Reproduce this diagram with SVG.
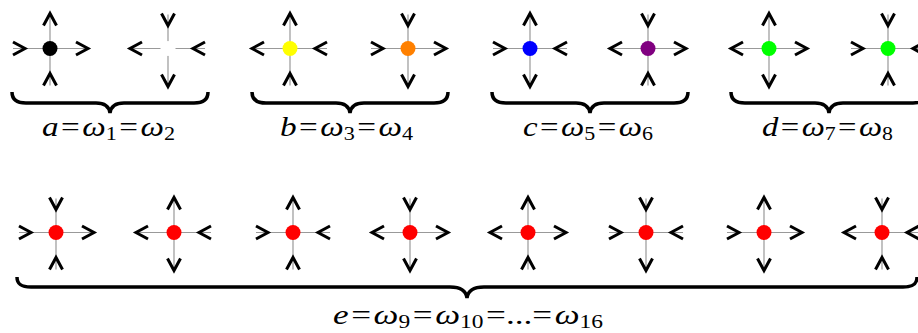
<svg xmlns="http://www.w3.org/2000/svg" xmlns:xlink="http://www.w3.org/1999/xlink" width="918" height="333" viewBox="0 0 918 333">
<style>
.arm{fill:none;stroke:#999;stroke-width:1.2}
.brace{fill:none;stroke:#000;stroke-width:3.5;stroke-linecap:butt}
.lbl{font-family:"Liberation Serif","Times New Roman",serif;font-size:27px;fill:#000}
.i{font-style:italic}
.s{font-size:18px}
</style>
<defs>
<g id="uo"><path d="M-6.5 -23L0 -35L6.5 -23" fill="none" stroke="#000" stroke-width="3"/></g>
<g id="ui"><path d="M-6.5 -35L0 -23L6.5 -35" fill="none" stroke="#000" stroke-width="3"/></g>
<g id="do"><path d="M-6.5 26L0 38L6.5 26" fill="none" stroke="#000" stroke-width="3"/></g>
<g id="di"><path d="M-6.5 37L0 25L6.5 37" fill="none" stroke="#000" stroke-width="3"/></g>
<g id="lo"><path d="M-26 -6.5L-38 0L-26 6.5" fill="none" stroke="#000" stroke-width="3"/></g>
<g id="li"><path d="M-37 -6.5L-25 0L-37 6.5" fill="none" stroke="#000" stroke-width="3"/></g>
<g id="ro"><path d="M26 -6.5L38 0L26 6.5" fill="none" stroke="#000" stroke-width="3"/></g>
<g id="ri"><path d="M37 -6.5L25 0L37 6.5" fill="none" stroke="#000" stroke-width="3"/></g>
<path id="cross" d="M-37 0H37M0 -34V37"/>
</defs>
<rect width="918" height="333" fill="#fff"/>

<!-- top row -->
<g id="v1" transform="translate(50,48.5)"><use href="#cross" class="arm"/><circle r="7.5" fill="#000"/><use href="#uo"/><use href="#li"/><use href="#ro"/><use href="#di"/></g>
<g id="v2" transform="translate(168,48.5)"><use href="#cross" class="arm"/><circle r="7.5" fill="#fff"/><use href="#ui"/><use href="#lo"/><use href="#ri"/><use href="#do"/></g>
<g id="v3" transform="translate(290,48.5)"><use href="#cross" class="arm"/><circle r="7.5" fill="#ffff00"/><use href="#uo"/><use href="#lo"/><use href="#ri"/><use href="#di"/></g>
<g id="v4" transform="translate(408,48.5)"><use href="#cross" class="arm"/><circle r="7.5" fill="#ff8000"/><use href="#ui"/><use href="#li"/><use href="#ro"/><use href="#do"/></g>
<g id="v5" transform="translate(530,48.5)"><use href="#cross" class="arm"/><circle r="7.5" fill="#0000ff"/><use href="#uo"/><use href="#li"/><use href="#ri"/><use href="#do"/></g>
<g id="v6" transform="translate(648,48.5)"><use href="#cross" class="arm"/><circle r="7.5" fill="#800080"/><use href="#ui"/><use href="#lo"/><use href="#ro"/><use href="#di"/></g>
<g id="v7" transform="translate(769,48.5)"><use href="#cross" class="arm"/><circle r="7.5" fill="#00ff00"/><use href="#uo"/><use href="#lo"/><use href="#ro"/><use href="#do"/></g>
<g id="v8" transform="translate(888,48.5)"><use href="#cross" class="arm"/><circle r="7.5" fill="#00ff00"/><use href="#ui"/><use href="#li"/><use href="#ri"/><use href="#di"/></g>

<!-- bottom row -->
<g id="v9" transform="translate(56,232.5)"><use href="#cross" class="arm"/><circle r="7.5" fill="#ff0000"/><use href="#ui"/><use href="#li"/><use href="#ro"/><use href="#di"/></g>
<g id="v10" transform="translate(174,232.5)"><use href="#cross" class="arm"/><circle r="7.5" fill="#ff0000"/><use href="#uo"/><use href="#lo"/><use href="#ri"/><use href="#do"/></g>
<g id="v11" transform="translate(293,232.5)"><use href="#cross" class="arm"/><circle r="7.5" fill="#ff0000"/><use href="#uo"/><use href="#li"/><use href="#ri"/><use href="#di"/></g>
<g id="v12" transform="translate(410,232.5)"><use href="#cross" class="arm"/><circle r="7.5" fill="#ff0000"/><use href="#ui"/><use href="#lo"/><use href="#ro"/><use href="#do"/></g>
<g id="v13" transform="translate(528,232.5)"><use href="#cross" class="arm"/><circle r="7.5" fill="#ff0000"/><use href="#uo"/><use href="#lo"/><use href="#ro"/><use href="#di"/></g>
<g id="v14" transform="translate(646,232.5)"><use href="#cross" class="arm"/><circle r="7.5" fill="#ff0000"/><use href="#ui"/><use href="#li"/><use href="#ri"/><use href="#do"/></g>
<g id="v15" transform="translate(764,232.5)"><use href="#cross" class="arm"/><circle r="7.5" fill="#ff0000"/><use href="#uo"/><use href="#li"/><use href="#ro"/><use href="#do"/></g>
<g id="v16" transform="translate(882,232.5)"><use href="#cross" class="arm"/><circle r="7.5" fill="#ff0000"/><use href="#ui"/><use href="#lo"/><use href="#ri"/><use href="#di"/></g>

<!-- braces -->
<g id="braces">
<path class="brace" d="M12 92C12 99 16 103 26 103H96C104 103 109 106 110 113C111 106 116 103 124 103H194C204 103 208 99 208 92"/>
<path class="brace" d="M252 92C252 99 256 103 266 103H336C344 103 349 106 350 113C351 106 356 103 364 103H434C444 103 448 99 448 92"/>
<path class="brace" d="M492 92C492 99 496 103 506 103H576C584 103 589 106 590 113C591 106 596 103 604 103H674C684 103 688 99 688 92"/>
<path class="brace" d="M731 92C731 99 735 103 745 103H815C823 103 828 106 829 113C830 106 835 103 843 103H913C923 103 927 99 927 92"/>
<path class="brace" d="M17 277C17 284 21 287 31 287H450C459 287 466 290 467 298C468 290 475 287 484 287H903C913 287 917 284 917 277"/>
</g>

<!-- labels -->
<g id="labels">
<text class="lbl" x="42" y="136" textLength="133" lengthAdjust="spacingAndGlyphs"><tspan class="i">a</tspan><tspan dx="2">=</tspan><tspan class="i" dx="2">ω</tspan><tspan class="s" dy="4">1</tspan><tspan dy="-4" dx="2">=</tspan><tspan class="i" dx="2">ω</tspan><tspan class="s" dy="4">2</tspan></text>
<text class="lbl" x="280" y="136" textLength="133" lengthAdjust="spacingAndGlyphs"><tspan class="i">b</tspan><tspan dx="2">=</tspan><tspan class="i" dx="2">ω</tspan><tspan class="s" dy="4">3</tspan><tspan dy="-4" dx="2">=</tspan><tspan class="i" dx="2">ω</tspan><tspan class="s" dy="4">4</tspan></text>
<text class="lbl" x="523" y="136" textLength="130" lengthAdjust="spacingAndGlyphs"><tspan class="i">c</tspan><tspan dx="2">=</tspan><tspan class="i" dx="2">ω</tspan><tspan class="s" dy="4">5</tspan><tspan dy="-4" dx="2">=</tspan><tspan class="i" dx="2">ω</tspan><tspan class="s" dy="4">6</tspan></text>
<text class="lbl" x="762" y="136" textLength="131" lengthAdjust="spacingAndGlyphs"><tspan class="i">d</tspan><tspan dx="2">=</tspan><tspan class="i" dx="2">ω</tspan><tspan class="s" dy="4">7</tspan><tspan dy="-4" dx="2">=</tspan><tspan class="i" dx="2">ω</tspan><tspan class="s" dy="4">8</tspan></text>
<text class="lbl" x="333" y="324" textLength="270" lengthAdjust="spacingAndGlyphs"><tspan class="i">e</tspan><tspan dx="2">=</tspan><tspan class="i" dx="2">ω</tspan><tspan class="s" dy="4">9</tspan><tspan dy="-4" dx="2">=</tspan><tspan class="i" dx="2">ω</tspan><tspan class="s" dy="4">10</tspan><tspan dy="-4" dx="2">=...=</tspan><tspan class="i" dx="2">ω</tspan><tspan class="s" dy="4">16</tspan></text>
</g>
</svg>
